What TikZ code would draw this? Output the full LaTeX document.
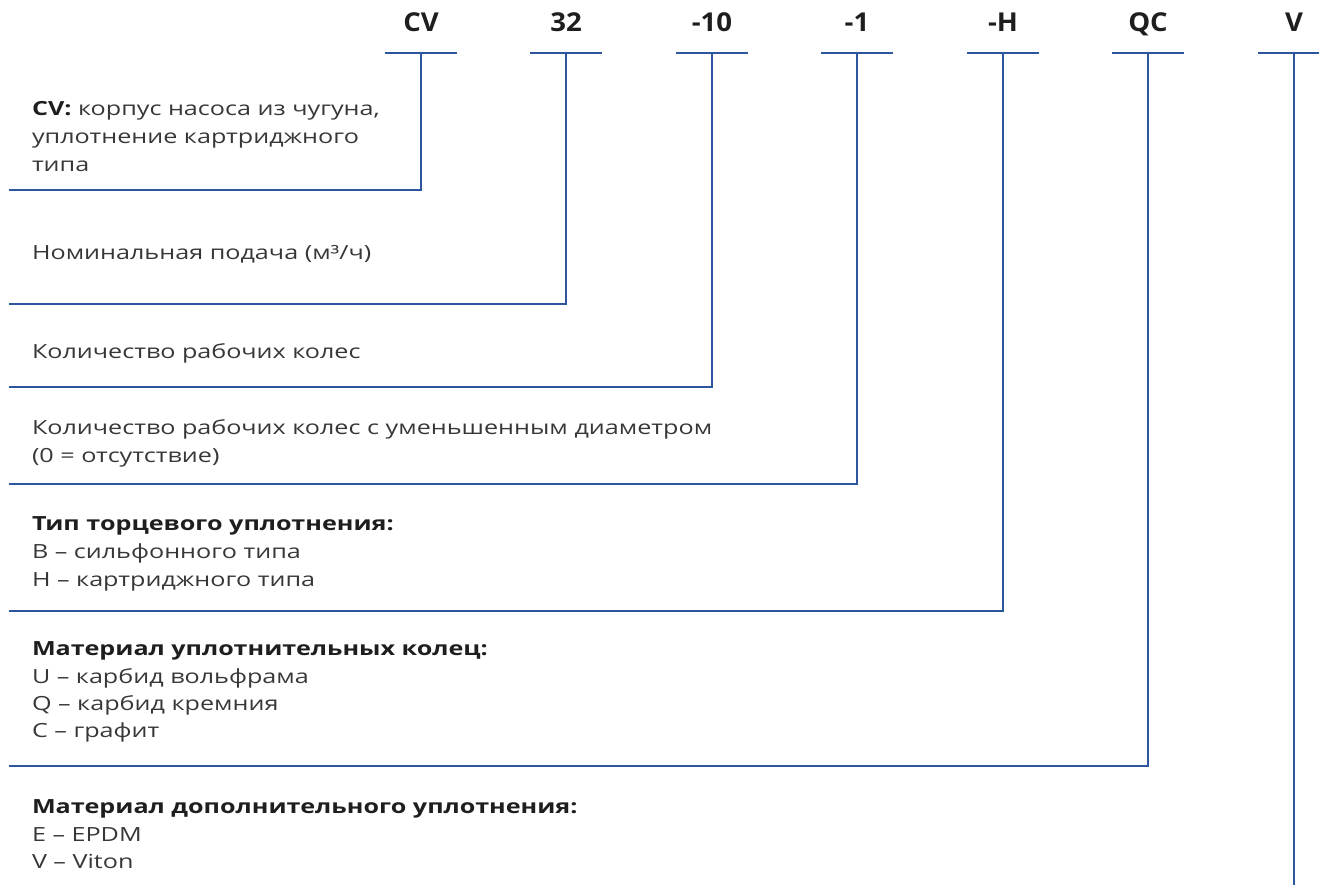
\documentclass[tikz,border=0pt]{standalone}
\usepackage{fontspec}
\setmainfont[FakeStretch=1.29]{Open Sans}
\newfontfamily\codefont[FakeStretch=1.06]{Open Sans}
\begin{document}
\begin{tikzpicture}[x=1pt,y=-1pt,
  every node/.style={inner sep=0pt,outer sep=0pt},
  code/.style={font=\codefont\fontsize{26}{30}\selectfont\bfseries,text=codecol,anchor=base},
  desc/.style={font=\fontsize{19.5}{23}\selectfont,text=desccol,anchor=base west},
  head/.style={desc,font=\fontsize{19.5}{23}\selectfont\bfseries,text=codecol},
  wire/.style={draw=wirecol,line width=1.8pt}]
\definecolor{wirecol}{RGB}{46,86,158}
\definecolor{codecol}{RGB}{30,30,30}
\definecolor{desccol}{RGB}{55,55,55}
\useasboundingbox (0,0) rectangle (1319,885);

% code labels
\foreach \n/\t/\x in {cv/CV/421, n32/32/566, n10/-10/712, n1/-1/857, nH/-H/1003, nQC/QC/1148, nV/V/1294}{
  \node[code] (\n) at (\x,32) {\t};
  \coordinate (\n T) at (\x,53);
  \coordinate (\n UL) at (\x-36,53);
  \coordinate (\n UR) at (\x+36,53);
  \draw[wire] (\n UL) -- (\n UR);
}
% free ends of the leaders
\coordinate (cvE) at (9,190);
\coordinate (n32E) at (9,304);
\coordinate (n10E) at (9,387);
\coordinate (n1E) at (9,484);
\coordinate (nHE) at (9,611);
\coordinate (nQCE) at (9,766);
\coordinate (nVE) at (1294,885);

\draw[wire,line join=miter] (cvT) |- (cvE);
\draw[wire,line join=miter] (n32T) |- (n32E);
\draw[wire,line join=miter] (n10T) |- (n10E);
\draw[wire,line join=miter] (n1T) |- (n1E);
\draw[wire,line join=miter] (nHT) |- (nHE);
\draw[wire,line join=miter] (nQCT) |- (nQCE);
\draw[wire] (nVT) -- (nVE);

% descriptions
\node[desc] (d1a) at (32,116) {\textbf{\color{codecol}CV:} корпус насоса из чугуна,};
\node[desc] (d1b) at (32,144) {уплотнение картриджного};
\node[desc] (d1c) at (32,172) {типа};

\node[desc] (d2) at (32,259) {Номинальная подача (м³/ч)};

\node[desc] (d3) at (32,358) {Количество рабочих колес};

\node[desc] (d4a) at (32,434) {Количество рабочих колес с уменьшенным диаметром};
\node[desc] (d4b) at (32,462) {(0 = отсутствие)};

\node[head] (d5a) at (32,530) {Тип торцевого уплотнения:};
\node[desc] (d5b) at (32,558) {B – сильфонного типа};
\node[desc] (d5c) at (32,586) {H – картриджного типа};

\node[head] (d6a) at (32,655) {Материал уплотнительных колец:};
\node[desc] (d6b) at (32,683) {U – карбид вольфрама};
\node[desc] (d6c) at (32,710) {Q – карбид кремния};
\node[desc] (d6d) at (32,737) {C – графит};

\node[head] (d7a) at (32,813) {Материал дополнительного уплотнения:};
\node[desc] (d7b) at (32,841) {E – EPDM};
\node[desc] (d7c) at (32,868) {V – Viton};
\end{tikzpicture}
\end{document}
